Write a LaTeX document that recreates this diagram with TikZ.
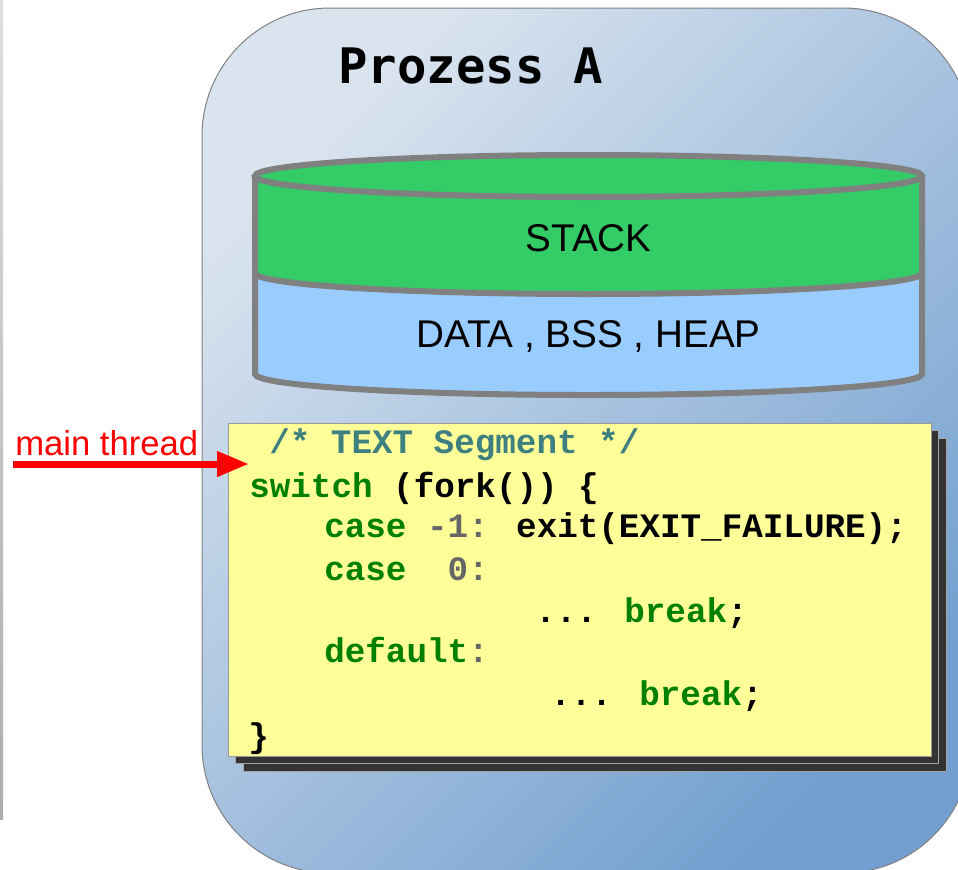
\documentclass[tikz,border=0pt]{standalone}
\usepackage{fontspec}
\setmainfont{Liberation Sans}
\newfontfamily\codefont{Liberation Mono}
\newfontfamily\titlefont{DejaVu Sans Mono}
\usetikzlibrary{arrows.meta}
\definecolor{codegreen}{RGB}{0,128,0}
\definecolor{codeteal}{RGB}{62,128,128}
\definecolor{codegray}{RGB}{102,102,102}
\definecolor{stackgreen}{RGB}{51,204,102}
\definecolor{heapblue}{RGB}{153,204,255}
\definecolor{boxyellow}{RGB}{255,255,153}
\definecolor{procLight}{RGB}{218,228,239}
\definecolor{procDark}{RGB}{114,159,207}
\begin{document}
\begin{tikzpicture}[x=0.75pt,y=-0.75pt,
    codeline/.style={anchor=base west,inner sep=0pt,font=\codefont\bfseries\fontsize{25.7}{30}\selectfont},
    segline/.style={draw=gray,line width=4.5pt},
    seglabel/.style={anchor=base,inner sep=0pt,font=\fontsize{29}{34}\selectfont}]
    \useasboundingbox (0,0) rectangle (958,869);
    \clip (0,0) rectangle (958,869);
    % left border bar
    \shade[top color=gray!25,bottom color=gray!65] (0,0) rectangle (3,819);

    % process box
    \shade[draw=gray,line width=0.75pt,rounded corners=96pt,
      top color=procLight,bottom color=procDark,shading angle=45]
      (202,8) rectangle (971,873);
    \node[anchor=base west,inner sep=0pt,font=\titlefont\bfseries\fontsize{36.7}{44}\selectfont]
      (title) at (338,83) {Prozess A};

    % memory cylinder: heap part, stack part, outline
    \fill[heapblue] (255,176) -- (255,374)
      arc[start angle=180,end angle=0,x radius=333.5,y radius=21] -- (922,176) -- cycle;
    \fill[stackgreen] (255,176) -- (255,273)
      arc[start angle=180,end angle=0,x radius=333.5,y radius=21] -- (922,176) -- cycle;
    \draw[segline] (255,176) -- (255,374)
      arc[start angle=180,end angle=0,x radius=333.5,y radius=21] -- (922,176);
    \draw[segline] (255,273) arc[start angle=180,end angle=0,x radius=333.5,y radius=21];
    \draw[segline,fill=stackgreen] (588.5,176) ellipse[x radius=333.5,y radius=21];
    \node[seglabel] (stack) at (588.5,251) {STACK};
    \node[seglabel] (heap) at (588.5,347) {DATA , BSS , HEAP};

    % text segment box with shadow
    \foreach \d in {15,7} {
      \fill[black!80] (228+\d,423+\d) rectangle (931+\d,756+\d);
      \draw[gray!70,line width=0.5pt] (228+\d,423+\d) rectangle (931+\d,756+\d);
    }
    \draw[fill=boxyellow,draw=gray!80,line width=0.75pt] (228,423) rectangle (931,756);

    \node[codeline] (c1) at (269,453) {\textcolor{codeteal}{/* TEXT Segment */}};
    \node[codeline] (c2) at (249,497) {\textcolor{codegreen}{switch} (fork()) \{};
    \node[codeline] (c3) at (324,537) {\textcolor{codegreen}{case} \textcolor{codegray}{-1:} exit(EXIT\_FAILURE);};
    \node[codeline] (c4) at (324,580) {\textcolor{codegreen}{case}\ \ \textcolor{codegray}{0:}};
    \node[codeline] (c5) at (535,622) {... \textcolor{codegreen}{break};};
    \node[codeline] (c6) at (324,662) {\textcolor{codegreen}{default}\textcolor{codegray}{:}};
    \node[codeline] (c7) at (550,705) {... \textcolor{codegreen}{break};};
    \node[codeline] (c8) at (248,747) {\}};

    % main thread arrow
    \node[anchor=base west,inner sep=0pt,text=red,font=\fontsize{26}{30}\selectfont]
      (thread) at (15,455) {main thread};
    \coordinate (tstart) at (13,464);
    \coordinate (tpoint) at (249,464);
    \draw[red,line width=5.25pt,-{Triangle[length=24pt,width=18pt]}] (tstart) -- (tpoint);
\end{tikzpicture}
\end{document}
